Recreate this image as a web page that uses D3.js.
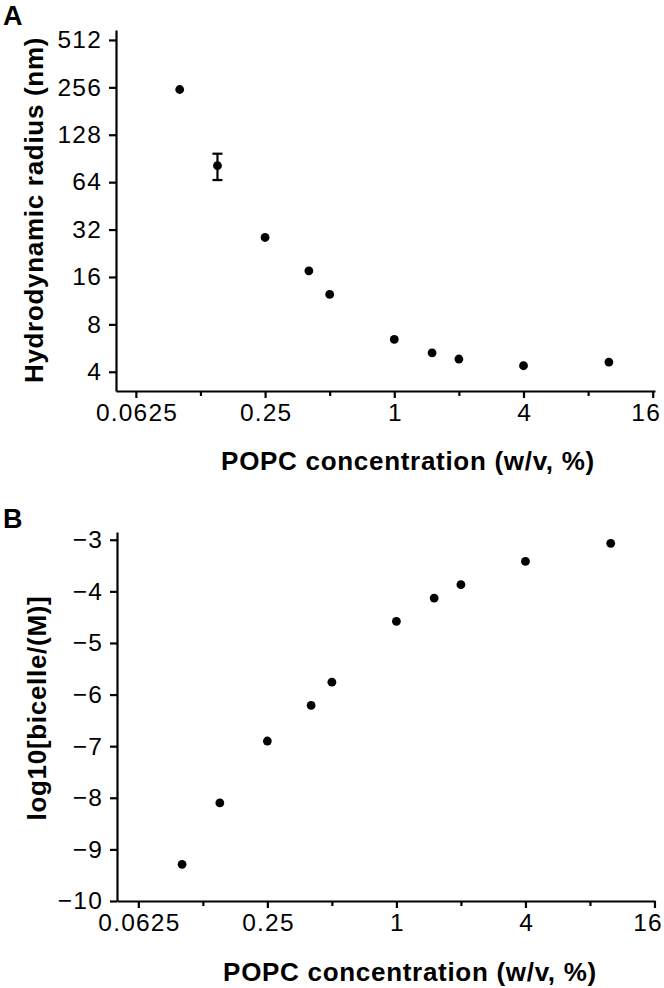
<!DOCTYPE html>
<html><head><meta charset="utf-8">
<script src="https://cdn.jsdelivr.net/npm/d3@7"></script>
<style>
html,body{margin:0;padding:0;background:#fff;}
text{font-family:"Liberation Sans",Arial,Helvetica,sans-serif;fill:#000;}
</style></head>
<body>
<svg id="c" width="664" height="988"></svg>
<script>
// ---- data ----
const concentration = [0.1, 0.15, 0.25, 0.4, 0.5, 1, 1.5, 2, 4, 10];
const radius = [248, 81.4, 28.5, 17.5, 12.4, 6.42, 5.28, 4.82, 4.37, 4.61];
const radiusErrLow = [null, 66, null, null, null, null, null, null, null, null];
const radiusErrHigh = [null, 97, null, null, null, null, null, null, null, null];
const logBicelle = [-9.29, -8.10, -6.90, -6.21, -5.76, -4.58, -4.13, -3.87, -3.42, -3.07];
const xMajorTicks = [0.0625, 0.25, 1, 4, 16];
const xMinorTicks = [0.125, 0.5, 2, 8];
const xTickLabels = ["0.0625", "0.25", "1", "4", "16"];
const yTicksA = [4, 8, 16, 32, 64, 128, 256, 512];
const yTicksB = [-10, -9, -8, -7, -6, -5, -4, -3];
const xDomainA = [0.0505, 16.4];
const xDomainB = [0.0497, 16.09];
const yDomainA = [3.02, 592];
const yDomainB = [-10, -2.85];
const xTitle = "POPC concentration (w/v, %)";
const yTitleA = "Hydrodynamic radius (nm)";
const yTitleB = "log10[bicelle/(M)]";

const svg = d3.select("#c");
const TICKFS = 24.5, TITLEFS = 26, TICKLS = 1.2, TITLELS = 0.7;

function panel(opts){
  const g = svg.append("g");
  const x = d3.scaleLog().base(2).domain(opts.xDomain).range([opts.left, opts.right]);
  const y = opts.yScale;
  // x axis
  const xa = g.append("g").attr("transform", `translate(0,${opts.bottom})`)
    .call(d3.axisBottom(x).tickValues(xMajorTicks).tickSize(7).tickSizeOuter(0).tickPadding(6)
      .tickFormat((d,i)=>xTickLabels[i]));
  xa.select(".domain").attr("stroke-width",2.2);
  xa.selectAll(".tick line").attr("stroke-width",2.2);
  xa.selectAll(".tick text").attr("font-size",TICKFS).attr("font-family",null)
    .attr("letter-spacing",TICKLS).attr("dx",TICKLS/2);
  // keep the last label inside the picture
  xa.selectAll(".tick text").filter((d,i,n)=>i===n.length-1).attr("dx",-7);
  g.append("g").attr("transform", `translate(0,${opts.bottom})`)
    .call(d3.axisBottom(x).tickValues(xMinorTicks).tickSize(5).tickSizeOuter(0).tickFormat(""))
    .call(s=>{s.select(".domain").remove(); s.selectAll(".tick line").attr("stroke-width",2.2);});
  // y axis
  const ya = g.append("g").attr("transform", `translate(${opts.left},0)`)
    .call(d3.axisLeft(y).tickValues(opts.yTicks).tickSize(7).tickSizeOuter(0).tickPadding(7)
      .tickFormat(opts.yFormat));
  ya.select(".domain").attr("stroke-width",2.2);
  ya.selectAll(".tick line").attr("stroke-width",2.2);
  ya.selectAll(".tick text").attr("font-size",TICKFS).attr("font-family",null)
    .attr("letter-spacing",TICKLS);
  g.selectAll("path.domain").attr("stroke","#000");
  // titles
  g.append("text").attr("x", opts.xTitleX).attr("y", opts.xTitleY).attr("text-anchor","middle")
    .attr("font-size",TITLEFS).attr("font-weight","bold").attr("letter-spacing",TITLELS).text(xTitle);
  g.append("text").attr("transform",`translate(${opts.yTitleX},${opts.yTitleY}) rotate(-90)`)
    .attr("text-anchor","middle").attr("font-size",TITLEFS).attr("font-weight","bold")
    .attr("letter-spacing",TITLELS).text(opts.yTitle);
  g.append("text").attr("x",3).attr("y",opts.letterY).attr("font-size",27).attr("font-weight","bold").text(opts.letter);
  // error bars
  concentration.forEach((c,i)=>{
    if(opts.errLow && opts.errLow[i]!=null){
      const cx = x(c);
      g.append("line").attr("x1",cx).attr("x2",cx).attr("y1",y(opts.errLow[i])).attr("y2",y(opts.errHigh[i]))
        .attr("stroke","#000").attr("stroke-width",2.2);
      [opts.errLow[i],opts.errHigh[i]].forEach(v=>{
        g.append("line").attr("x1",cx-5).attr("x2",cx+5).attr("y1",y(v)).attr("y2",y(v))
          .attr("stroke","#000").attr("stroke-width",2.2);
      });
    }
  });
  g.selectAll("circle.pt").data(concentration).join("circle").attr("class","pt")
    .attr("cx",d=>x(d)).attr("cy",(d,i)=>y(opts.yValues[i])).attr("r",4.4).attr("fill","#000");
}

panel({
  xDomain: xDomainA, left:116, right:655, bottom:391,
  yScale: d3.scaleLog().base(2).domain(yDomainA).range([391,30]),
  yTicks: yTicksA, yFormat: d=>String(d), yValues: radius,
  errLow: radiusErrLow, errHigh: radiusErrHigh,
  xTitleX: 408, xTitleY: 470, yTitle: yTitleA, yTitleX: 43, yTitleY: 210,
  letter:"A", letterY:25
});
panel({
  xDomain: xDomainB, left:117, right:655, bottom:901,
  yScale: d3.scaleLinear().domain(yDomainB).range([901,532]),
  yTicks: yTicksB, yFormat: d3.format("d"), yValues: logBicelle,
  xTitleX: 410, xTitleY: 981, yTitle: yTitleB, yTitleX: 46, yTitleY: 708,
  letter:"B", letterY:528
});
</script>
</body></html>
